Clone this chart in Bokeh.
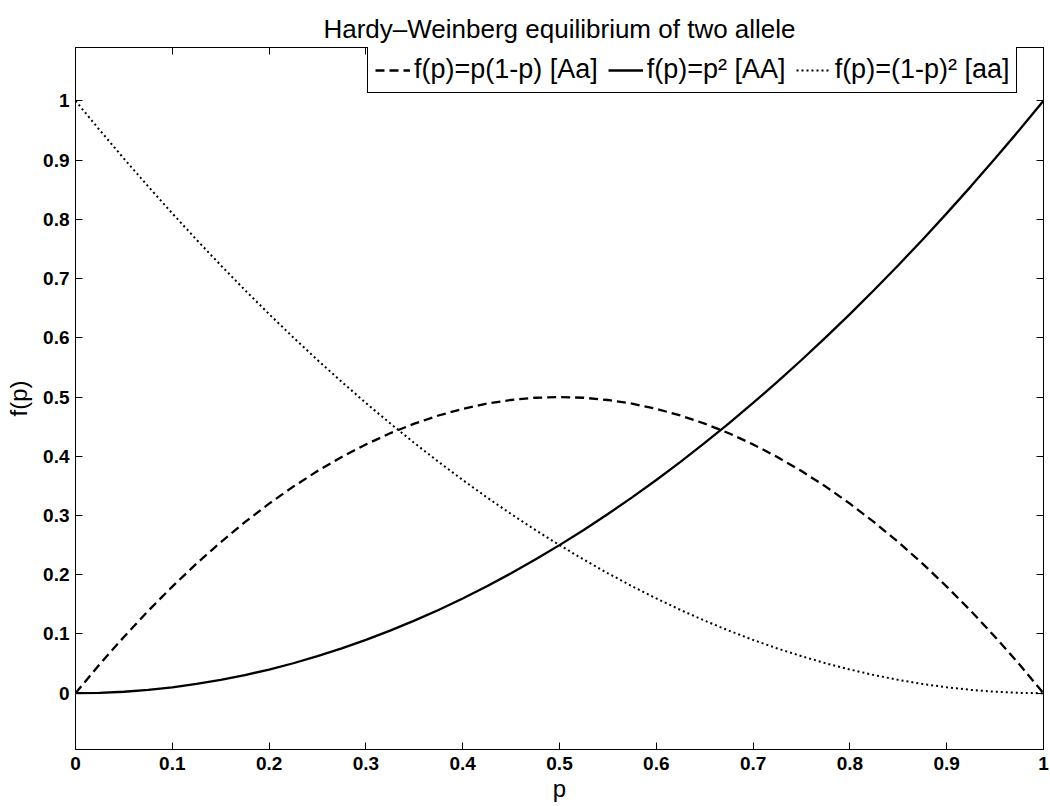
from bokeh.plotting import figure
from bokeh.models import Range1d, FixedTicker, LinearAxis, Legend, LegendItem
from bokeh.embed import file_html
from bokeh.resources import INLINE

# ---- data ----
p_vals = [0.000, 0.025, 0.050, 0.075, 0.100, 0.125, 0.150, 0.175, 0.200, 0.225, 0.250,
          0.275, 0.300, 0.325, 0.350, 0.375, 0.400, 0.425, 0.450, 0.475, 0.500,
          0.525, 0.550, 0.575, 0.600, 0.625, 0.650, 0.675, 0.700, 0.725, 0.750,
          0.775, 0.800, 0.825, 0.850, 0.875, 0.900, 0.925, 0.950, 0.975, 1.000]
het_Aa = [0.0000, 0.0488, 0.0950, 0.1388, 0.1800, 0.2188, 0.2550, 0.2888, 0.3200, 0.3488, 0.3750,
          0.3988, 0.4200, 0.4388, 0.4550, 0.4688, 0.4800, 0.4888, 0.4950, 0.4988, 0.5000,
          0.4988, 0.4950, 0.4888, 0.4800, 0.4688, 0.4550, 0.4388, 0.4200, 0.3988, 0.3750,
          0.3488, 0.3200, 0.2888, 0.2550, 0.2188, 0.1800, 0.1388, 0.0950, 0.0488, 0.0000]
hom_AA = [0.0000, 0.0006, 0.0025, 0.0056, 0.0100, 0.0156, 0.0225, 0.0306, 0.0400, 0.0506, 0.0625,
          0.0756, 0.0900, 0.1056, 0.1225, 0.1406, 0.1600, 0.1806, 0.2025, 0.2256, 0.2500,
          0.2756, 0.3025, 0.3306, 0.3600, 0.3906, 0.4225, 0.4556, 0.4900, 0.5256, 0.5625,
          0.6006, 0.6400, 0.6806, 0.7225, 0.7656, 0.8100, 0.8556, 0.9025, 0.9506, 1.0000]
hom_aa = [1.0000, 0.9506, 0.9025, 0.8556, 0.8100, 0.7656, 0.7225, 0.6806, 0.6400, 0.6006, 0.5625,
          0.5256, 0.4900, 0.4556, 0.4225, 0.3906, 0.3600, 0.3306, 0.3025, 0.2756, 0.2500,
          0.2256, 0.2025, 0.1806, 0.1600, 0.1406, 0.1225, 0.1056, 0.0900, 0.0756, 0.0625,
          0.0506, 0.0400, 0.0306, 0.0225, 0.0156, 0.0100, 0.0056, 0.0025, 0.0006, 0.0000]

x_ticks = [0, 0.1, 0.2, 0.3, 0.4, 0.5, 0.6, 0.7, 0.8, 0.9, 1]
x_tick_labels = ["0", "0.1", "0.2", "0.3", "0.4", "0.5", "0.6", "0.7", "0.8", "0.9", "1"]
y_ticks = [0, 0.1, 0.2, 0.3, 0.4, 0.5, 0.6, 0.7, 0.8, 0.9, 1]
y_tick_labels = ["0", "0.1", "0.2", "0.3", "0.4", "0.5", "0.6", "0.7", "0.8", "0.9", "1"]

legend_labels = ["f(p)=p(1-p) [Aa]", "f(p)=p\u00b2 [AA]", "f(p)=(1-p)\u00b2 [aa]"]
title_text = "Hardy\u2013Weinberg equilibrium of two allele"
x_label = "p"
y_label = "f(p)"

FONT = "Liberation Sans"

p = figure(width=1050, height=806, output_backend="svg", toolbar_location=None,
           x_range=Range1d(0, 1), y_range=Range1d(-0.095, 1.09),
           min_border_left=75, min_border_right=7, min_border_top=47, min_border_bottom=57,
           title=title_text)

p.title.text_font = FONT
p.title.text_font_size = "26px"
p.title.text_font_style = "normal"
p.title.text_color = "black"
p.title.align = "center"
p.title.standoff = 8

p.grid.visible = False
p.outline_line_color = "black"
p.outline_line_width = 1
p.outline_line_alpha = 1

xt = FixedTicker(ticks=x_ticks)
yt = FixedTicker(ticks=y_ticks)

def style_axis(ax, ticker, labels, show_labels=True):
    ax.ticker = ticker
    ax.major_label_overrides = {t: (l if show_labels else "") for t, l in zip(ticker.ticks, labels)}
    ax.major_tick_in = 7
    ax.major_tick_out = 0
    ax.minor_tick_line_color = None
    ax.axis_line_color = "black"
    ax.major_tick_line_color = "black"
    ax.major_label_text_font = FONT
    ax.major_label_text_font_size = "19px"
    ax.major_label_text_font_style = "bold"
    ax.major_label_text_color = "black"

style_axis(p.xaxis[0], xt, x_tick_labels)
style_axis(p.yaxis[0], yt, y_tick_labels)
p.xaxis[0].major_label_standoff = 7
p.yaxis[0].major_label_standoff = 6
p.xaxis[0].axis_label = x_label
p.yaxis[0].axis_label = y_label
for ax in (p.xaxis[0], p.yaxis[0]):
    ax.axis_label_text_font = FONT
    ax.axis_label_text_font_size = "24px"
    ax.axis_label_text_font_style = "normal"
    ax.axis_label_text_color = "black"
p.xaxis[0].axis_label_standoff = 2
p.yaxis[0].axis_label_standoff = 8

top_ax = LinearAxis()
right_ax = LinearAxis()
style_axis(top_ax, xt, x_tick_labels, show_labels=False)
style_axis(right_ax, yt, y_tick_labels, show_labels=False)
for ax in (top_ax, right_ax):
    ax.major_label_text_font_size = "1px"
    ax.major_label_standoff = 0
p.add_layout(top_ax, "above")
p.add_layout(right_ax, "right")

r_het = p.line(p_vals, het_Aa, line_color="black", line_width=2.3, line_dash="9 5")
r_AA = p.line(p_vals, hom_AA, line_color="black", line_width=2.3)
r_aa = p.line(p_vals, hom_aa, line_color="black", line_width=2.0, line_dash="2 3")

legend = Legend(items=[LegendItem(label=legend_labels[0], renderers=[r_het]),
                       LegendItem(label=legend_labels[1], renderers=[r_AA]),
                       LegendItem(label=legend_labels[2], renderers=[r_aa])],
                orientation="horizontal", location=(292, 656),
                label_text_font=FONT, label_text_font_size="27px", label_text_color="black",
                glyph_width=35, glyph_height=26, label_height=26,
                spacing=10, padding=7, label_standoff=4, margin=0,
                border_line_color="black", border_line_width=1, border_line_alpha=1,
                background_fill_color="white", background_fill_alpha=1)
p.add_layout(legend)

open("out.html", "w").write(file_html(p, INLINE))
